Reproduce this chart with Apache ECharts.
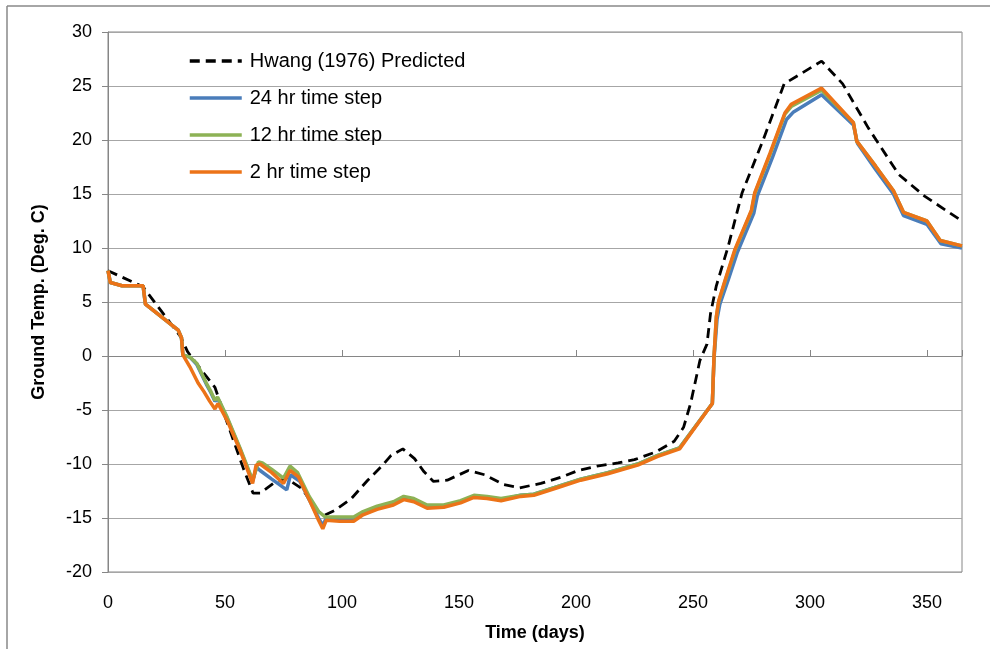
<!DOCTYPE html>
<html>
<head>
<meta charset="utf-8">
<script src="https://cdn.jsdelivr.net/npm/echarts@6/dist/echarts.min.js"></script>
<style>
html,body{margin:0;padding:0;background:#fff;}
#chart{width:990px;height:649px;}
</style>
</head>
<body>
<div id="chart"></div>
<script>
var seriesNames = ['Hwang (1976) Predicted', '24 hr time step', '12 hr time step', '2 hr time step'];
var xTicks = [0, 50, 100, 150, 200, 250, 300, 350];
var yTicks = [-20, -15, -10, -5, 0, 5, 10, 15, 20, 25, 30];

var hwang = [[0,7.9],[15,6.4],[31,1.8],[34,0.4],[41,-1.6],[45.7,-2.9],[51,-6.2],[58,-10.5],[62,-12.7],[65,-12.7],[70.7,-11.8],[76,-11.3],[83,-12.3],[89,-14.2],[92,-14.8],[97,-14.3],[104,-13.2],[111,-11.5],[117,-10.2],[121,-9.2],[126,-8.6],[131,-9.5],[135,-10.7],[139,-11.6],[145,-11.5],[154,-10.6],[161,-11.0],[169,-11.9],[176,-12.2],[185,-11.8],[194,-11.2],[201,-10.6],[209,-10.2],[218,-9.9],[225,-9.6],[234,-8.9],[242,-7.9],[246,-6.6],[249,-4.4],[253,-0.4],[256,1.1],[257.5,3.9],[260,6.5],[265,10.1],[271,15.1],[280,20],[289,25.2],[305,27.3],[314,25.2],[325,21.1],[338,16.8],[349,14.8],[365,12.5]];

var step24 = [[0,7.9],[1,6.8],[6,6.5],[15,6.5],[16,4.8],[30,2.4],[31.4,1.7],[32,0.1],[35,-0.1],[38,-0.8],[42,-2.6],[44,-3.4],[45.7,-4.2],[46.8,-3.9],[51,-5.8],[56.4,-8.6],[61.8,-11.6],[63.5,-10.3],[65,-10.6],[70,-11.4],[76.4,-12.4],[78,-11.0],[82,-11.6],[86,-13.3],[90,-15.0],[91.8,-15.7],[93.3,-15.0],[99,-15.1],[105,-15.1],[109,-14.6],[115,-14.1],[122,-13.7],[126.4,-13.2],[130.7,-13.4],[136.4,-14.0],[143.5,-13.9],[150.7,-13.5],[156.4,-13.0],[162,-13.1],[168,-13.3],[176.4,-12.9],[182,-12.8],[192,-12.1],[202,-11.4],[213.6,-10.8],[226.4,-10.0],[235,-9.2],[244.3,-8.5],[258.3,-4.4],[259,-0.3],[260.3,3.4],[261.5,4.8],[265,7.0],[269,9.6],[276,13.2],[277.5,14.8],[284,18.4],[290,21.9],[293,22.6],[305,24.2],[318.6,21.4],[320.3,19.7],[328,17.3],[335.7,15.0],[340,13.0],[350,12.2],[356,10.4],[365,10.0]];

var step12 = [[0,7.9],[1,6.8],[6,6.5],[15,6.5],[16,4.8],[30,2.4],[31.4,1.7],[32,0.1],[35,-0.1],[38,-0.7],[42,-2.5],[44,-3.3],[45.7,-4.1],[46.8,-3.8],[51,-5.7],[56.4,-8.5],[61.8,-11.5],[64.3,-9.8],[66,-9.9],[70,-10.5],[75,-11.3],[77.8,-10.2],[81,-10.8],[86,-13.0],[90,-14.4],[92.8,-14.9],[99,-14.9],[105,-14.9],[109,-14.4],[115,-13.9],[122,-13.5],[126.4,-13.0],[130.7,-13.2],[136.4,-13.8],[143.5,-13.8],[150.7,-13.4],[156.4,-12.9],[162,-13.0],[168,-13.2],[176.4,-12.9],[182,-12.8],[192,-12.1],[202,-11.4],[213.6,-10.8],[226.4,-10.0],[235,-9.2],[244.3,-8.5],[258.3,-4.4],[259,-0.1],[260,3.6],[261,5.0],[264,7.1],[268,9.8],[275,13.4],[276.4,15.0],[283,18.7],[289.3,22.4],[292,23.1],[305,24.6],[318.6,21.6],[320,19.9],[328,17.6],[335.7,15.3],[340,13.3],[350,12.5],[355.7,10.7],[365,10.2]];

var step2 = [[0,7.9],[1,6.8],[6,6.5],[15,6.5],[16,4.8],[30,2.4],[31.4,1.7],[32,0.1],[35,-1.0],[38.5,-2.5],[41,-3.3],[43.5,-4.2],[45.7,-4.9],[47,-4.4],[51,-6.0],[56.4,-8.7],[61.8,-11.8],[63.3,-10.1],[65,-10.0],[70,-10.8],[75,-11.8],[77.8,-10.6],[81.4,-11.2],[86,-13.3],[90,-15.2],[91.8,-16.0],[93.3,-15.2],[99,-15.3],[105,-15.3],[109,-14.7],[115,-14.2],[122,-13.8],[126.4,-13.3],[130.7,-13.5],[136.4,-14.1],[143.5,-14.0],[150.7,-13.6],[156.4,-13.1],[162,-13.2],[168,-13.4],[176.4,-13.0],[182,-12.9],[192,-12.2],[202,-11.5],[213.6,-10.9],[226.4,-10.1],[235,-9.3],[244.3,-8.6],[258.3,-4.4],[259,-0.1],[260,3.6],[261,5.1],[264,7.2],[268,9.9],[275,13.5],[276.4,15.1],[283,18.8],[289.3,22.5],[292,23.3],[305,24.8],[318.6,21.6],[320,19.9],[328,17.6],[335.7,15.3],[340,13.3],[350,12.5],[355.7,10.7],[365,10.2]];

var colors = ['#000000', '#4A7DBA', '#8DB255', '#EC7318'];
var FONT = 'Liberation Sans';

var chart = echarts.init(document.getElementById('chart'), null, {renderer: 'canvas'});
var option = {
  animation: false,
  backgroundColor: '#ffffff',
  textStyle: {fontFamily: FONT},
  graphic: [
    {type: 'line', shape: {x1: 7, y1: 6, x2: 990, y2: 6}, style: {stroke: '#888888', lineWidth: 1.5}},
    {type: 'line', shape: {x1: 7, y1: 6, x2: 7, y2: 649}, style: {stroke: '#888888', lineWidth: 1.5}}
  ],
  grid: {left: 108, right: 28, top: 32, bottom: 77, show: true, borderColor: '#868686', borderWidth: 1, backgroundColor: 'transparent'},
  legend: {
    orient: 'vertical', left: 183, top: 46,
    itemWidth: 52, itemHeight: 18, itemGap: 17,
    itemStyle: {opacity: 0},
    lineStyle: {width: 3.5},
    textStyle: {fontFamily: FONT, fontSize: 20, color: '#000', padding: [0, 0, 0, 3]},
    data: seriesNames
  },
  xAxis: [{
    type: 'value', min: 0, max: 365, interval: 50,
    name: 'Time (days)', nameLocation: 'middle', nameGap: 52,
    nameTextStyle: {fontFamily: FONT, fontSize: 18, fontWeight: 'bold', color: '#000'},
    axisLine: {show: false, onZero: false},
    axisTick: {show: false},
    axisLabel: {fontFamily: FONT, fontSize: 18, color: '#000', margin: 22,
      formatter: function (v) { return xTicks.indexOf(v) >= 0 ? String(v) : ''; }},
    splitLine: {show: false}
  }, {
    type: 'value', min: 0, max: 365, interval: 50,
    axisLine: {show: true, onZero: true, lineStyle: {color: '#868686', width: 1}},
    axisTick: {show: true, inside: false, length: 6, lineStyle: {color: '#868686'}},
    axisLabel: {show: false},
    splitLine: {show: false}
  }],
  yAxis: {
    type: 'value', min: -20, max: 30, interval: 5,
    name: 'Ground Temp. (Deg. C)', nameLocation: 'middle', nameGap: 60, nameRotate: 90,
    nameTextStyle: {fontFamily: FONT, fontSize: 18, fontWeight: 'bold', color: '#000'},
    axisLine: {show: true, lineStyle: {color: '#868686', width: 1}},
    axisTick: {show: true, length: 6, lineStyle: {color: '#868686'}},
    axisLabel: {fontFamily: FONT, fontSize: 18, color: '#000', margin: 16,
      formatter: function (v) { return yTicks.indexOf(v) >= 0 ? String(v) : ''; }},
    splitLine: {show: true, lineStyle: {color: '#a6a6a6', width: 1}}
  },
  series: [
    {name: seriesNames[0], type: 'line', xAxisIndex: 0, data: hwang, showSymbol: false, symbol: 'none',
      lineStyle: {color: colors[0], width: 2.8, type: [10, 6]}, itemStyle: {color: colors[0]}, z: 2},
    {name: seriesNames[1], type: 'line', xAxisIndex: 0, data: step24, showSymbol: false, symbol: 'none',
      lineStyle: {color: colors[1], width: 3.5}, itemStyle: {color: colors[1]}, z: 3},
    {name: seriesNames[2], type: 'line', xAxisIndex: 0, data: step12, showSymbol: false, symbol: 'none',
      lineStyle: {color: colors[2], width: 3.5}, itemStyle: {color: colors[2]}, z: 4},
    {name: seriesNames[3], type: 'line', xAxisIndex: 0, data: step2, showSymbol: false, symbol: 'none',
      lineStyle: {color: colors[3], width: 3.5}, itemStyle: {color: colors[3]}, z: 5}
  ]
};
chart.setOption(option);
</script>
</body>
</html>
